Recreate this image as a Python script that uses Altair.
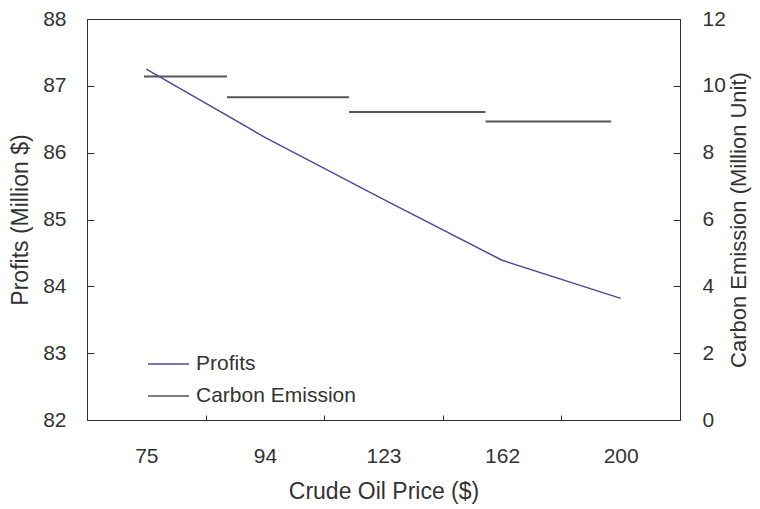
import json
import altair as alt
import pandas as pd

# ---- data ----
prices = ["75", "94", "123", "162", "200"]
profits = [87.25, 86.23, 85.30, 84.39, 83.82]
carbon = [10.28, 9.66, 9.22, 8.93]
carbon_from = [0.48, 1.18, 2.21, 3.36]   # in category-position units
carbon_to = [1.18, 2.21, 3.36, 4.42]
series = ["Profits", "Carbon Emission"]
profit_ticks = [82, 83, 84, 85, 86, 87, 88]
carbon_ticks = [0, 2, 4, 6, 8, 10, 12]

# ---- styling ----
colors = ["#4b4b9e", "#555555"]
FONT = "Liberation Sans"
TXT = "#333333"
FS = 21
TFS = 23

profit_df = pd.DataFrame({
    "pos": [i + 0.5 for i in range(len(prices))],
    "price": prices,
    "value": profits,
    "series": series[0],
})
carbon_df = pd.DataFrame({
    "x1": carbon_from,
    "x2": carbon_to,
    "value": carbon,
    "series": series[1],
})

x_values = [i * 0.5 for i in range(1, 2 * len(prices))]
label_expr = f"datum.value % 1 == 0 ? '' : {json.dumps(prices)}[floor(datum.value)]"
x_scale = alt.Scale(domain=[0, len(prices)], nice=False, zero=False)


def make_x_axis():
    return alt.Axis(
        orient="bottom",
        values=x_values, labelExpr=label_expr, title="Crude Oil Price ($)",
        domain=False, grid=False, offset=-5, tickSize=5,
        tickOpacity={"condition": {"test": "datum.value % 1 == 0", "value": 1}, "value": 0},
        labelPadding=25, titlePadding=14, labelOverlap=False, labelFlush=False, labelBound=False,
    )


color = alt.Color(
    "series:N",
    scale=alt.Scale(domain=series, range=colors),
    legend=alt.Legend(
        orient="none", legendX=60, legendY=329, title=None,
        symbolType="stroke", symbolSize=1681, symbolStrokeWidth=1.5,
        labelFontSize=FS, labelFont=FONT, labelColor=TXT, labelOffset=6,
        padding=0, clipHeight=32, rowPadding=0, labelLimit=400,
    ),
)

profit_layer = alt.Chart(profit_df).mark_line(strokeWidth=1.5).encode(
    x=alt.X("pos:Q", scale=x_scale, axis=make_x_axis()),
    y=alt.Y("value:Q", scale=alt.Scale(domain=[82, 88], nice=False, zero=False),
            axis=alt.Axis(orient="left", values=profit_ticks, title="Profits (Million $)",
                          domain=False, grid=False, offset=-7, tickSize=7,
                          labelPadding=21, titlePadding=10)),
    color=color,
)

carbon_layer = alt.Chart(carbon_df).mark_rule(strokeWidth=2).encode(
    x=alt.X("x1:Q", scale=x_scale, axis=make_x_axis()),
    x2="x2:Q",
    y=alt.Y("value:Q", scale=alt.Scale(domain=[0, 12], nice=False, zero=True),
            axis=alt.Axis(orient="right", values=carbon_ticks,
                          title="Carbon Emission (Million Unit)", titleAngle=-90,
                          titleBaseline="top", titleFontSize=22,
                          domain=False, grid=False, offset=-7, tickSize=7,
                          labelPadding=22, titlePadding=3)),
    color=color,
)

chart = alt.layer(profit_layer, carbon_layer).resolve_scale(y="independent").properties(
    width=593, height=401,
    autosize=alt.AutoSizeParams(type="none"),
    padding={"left": 79, "top": 11, "right": 72, "bottom": 88},
).configure_view(
    stroke="#333333", strokeWidth=1,
).configure_axis(
    labelFont=FONT, titleFont=FONT, labelFontSize=FS, titleFontSize=TFS,
    labelColor=TXT, titleColor=TXT, titleFontWeight="normal",
    tickColor="#333333",
)

chart.save("out.html", embed_options={"renderer": "svg", "actions": False})
